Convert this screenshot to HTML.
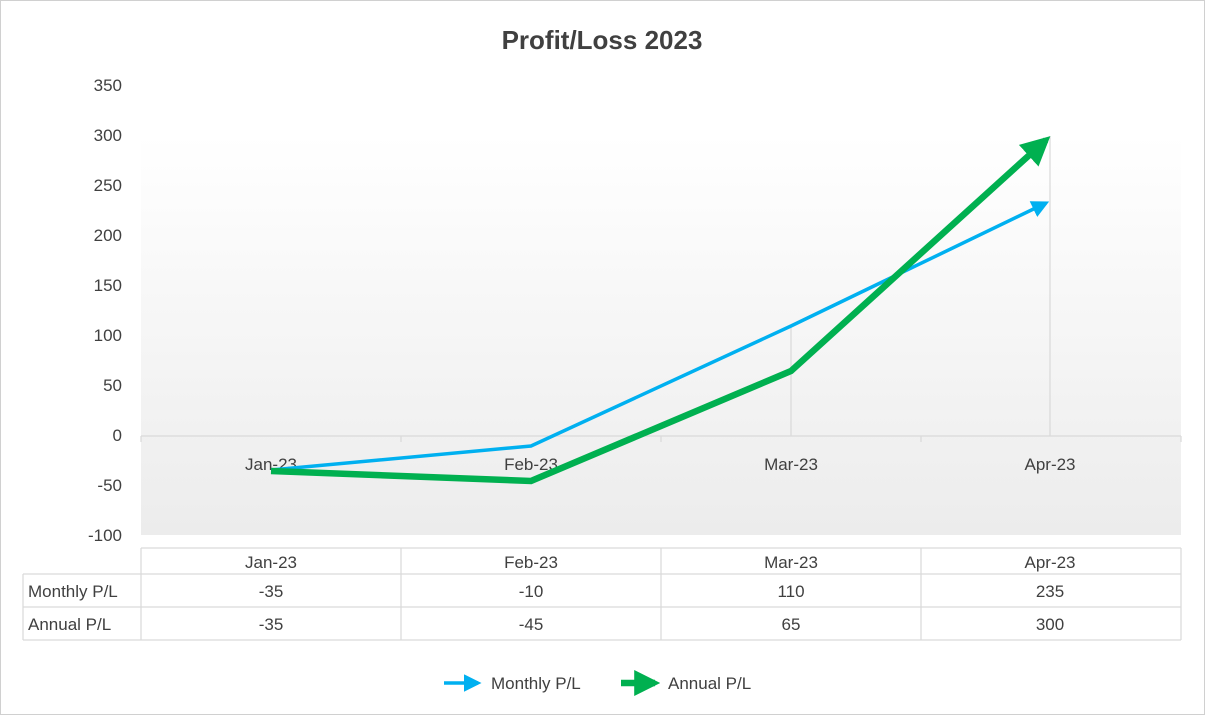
<!DOCTYPE html>
<html><head><meta charset="utf-8"><style>
body{margin:0;width:1205px;height:715px;background:#fff;overflow:hidden}
svg text{font-family:"Liberation Sans",sans-serif;fill:#404040}
</style></head><body>
<svg width="1205" height="715" viewBox="0 0 1205 715">
<defs>
<linearGradient id="g" x1="0" y1="0" x2="0" y2="1">
<stop offset="0" stop-color="#ffffff"/><stop offset="1" stop-color="#ececec"/>
</linearGradient>
<marker id="ab" viewBox="0 0 10 10" refX="8" refY="5" markerWidth="5" markerHeight="5" orient="auto"><path d="M0,0L10,5L0,10z" fill="#00B0F0"/></marker>
<marker id="ag" viewBox="0 0 10 10" refX="8" refY="5" markerWidth="4.5" markerHeight="4.5" orient="auto"><path d="M0,0L10,5L0,10z" fill="#00B050"/></marker>
<marker id="ag2" viewBox="0 0 10 10" refX="8" refY="5" markerWidth="4" markerHeight="4" orient="auto"><path d="M0,0L10,5L0,10z" fill="#00B050"/></marker>
</defs>
<rect x="0.5" y="0.5" width="1204" height="714" fill="#fff" stroke="#d0d0d0"/>
<text x="602" y="49" text-anchor="middle" font-size="26" font-weight="bold" style="fill:#404040">Profit/Loss 2023</text>
<rect x="141" y="135" width="1040" height="400" fill="url(#g)"/>
<g font-size="17" text-anchor="end">
<text x="122" y="91">350</text><text x="122" y="141">300</text><text x="122" y="191">250</text>
<text x="122" y="241">200</text><text x="122" y="291">150</text><text x="122" y="341">100</text>
<text x="122" y="391">50</text><text x="122" y="441">0</text><text x="122" y="491">-50</text>
<text x="122" y="541">-100</text></g>
<g stroke="#d9d9d9" stroke-width="1.2">
<line x1="141" y1="436" x2="1181" y2="436"/>
<line x1="141" y1="436" x2="141" y2="442"/><line x1="401" y1="436" x2="401" y2="442"/>
<line x1="661" y1="436" x2="661" y2="442"/><line x1="921" y1="436" x2="921" y2="442"/><line x1="1181" y1="436" x2="1181" y2="442"/>
<line x1="791" y1="326" x2="791" y2="436"/><line x1="1050" y1="136" x2="1050" y2="436"/>
</g>
<g font-size="17" text-anchor="middle">
<text x="271" y="470">Jan-23</text><text x="531" y="470">Feb-23</text><text x="791" y="470">Mar-23</text><text x="1050" y="470">Apr-23</text></g>
<polyline points="271,470 531,446 791,326 1046,203" fill="none" stroke="#00B0F0" stroke-width="3.5" marker-end="url(#ab)"/>
<polyline points="271,471 531,481 791,371 1046,140" fill="none" stroke="#00B050" stroke-width="6.5" marker-end="url(#ag)"/>
<g stroke="#d9d9d9" stroke-width="1.2" fill="none">
<line x1="141" y1="548" x2="1181" y2="548"/>
<line x1="23" y1="574" x2="1181" y2="574"/>
<line x1="23" y1="607" x2="1181" y2="607"/>
<line x1="23" y1="640" x2="1181" y2="640"/>
<line x1="23" y1="574" x2="23" y2="640"/>
<line x1="141" y1="548" x2="141" y2="640"/><line x1="401" y1="548" x2="401" y2="640"/>
<line x1="661" y1="548" x2="661" y2="640"/><line x1="921" y1="548" x2="921" y2="640"/><line x1="1181" y1="548" x2="1181" y2="640"/>
</g>
<g font-size="17" text-anchor="middle">
<text x="271" y="568">Jan-23</text><text x="531" y="568">Feb-23</text><text x="791" y="568">Mar-23</text><text x="1050" y="568">Apr-23</text>
<text x="271" y="597">-35</text><text x="531" y="597">-10</text><text x="791" y="597">110</text><text x="1050" y="597">235</text>
<text x="271" y="630">-35</text><text x="531" y="630">-45</text><text x="791" y="630">65</text><text x="1050" y="630">300</text>
</g>
<g font-size="17"><text x="28" y="597">Monthly P/L</text><text x="28" y="630">Annual P/L</text></g>
<line x1="444" y1="683" x2="478" y2="683" stroke="#00B0F0" stroke-width="3.5" marker-end="url(#ab)"/>
<text x="491" y="689" font-size="17">Monthly P/L</text>
<line x1="621" y1="683" x2="655" y2="683" stroke="#00B050" stroke-width="6.5" marker-end="url(#ag2)"/>
<text x="668" y="689" font-size="17">Annual P/L</text>
</svg>
</body></html>
